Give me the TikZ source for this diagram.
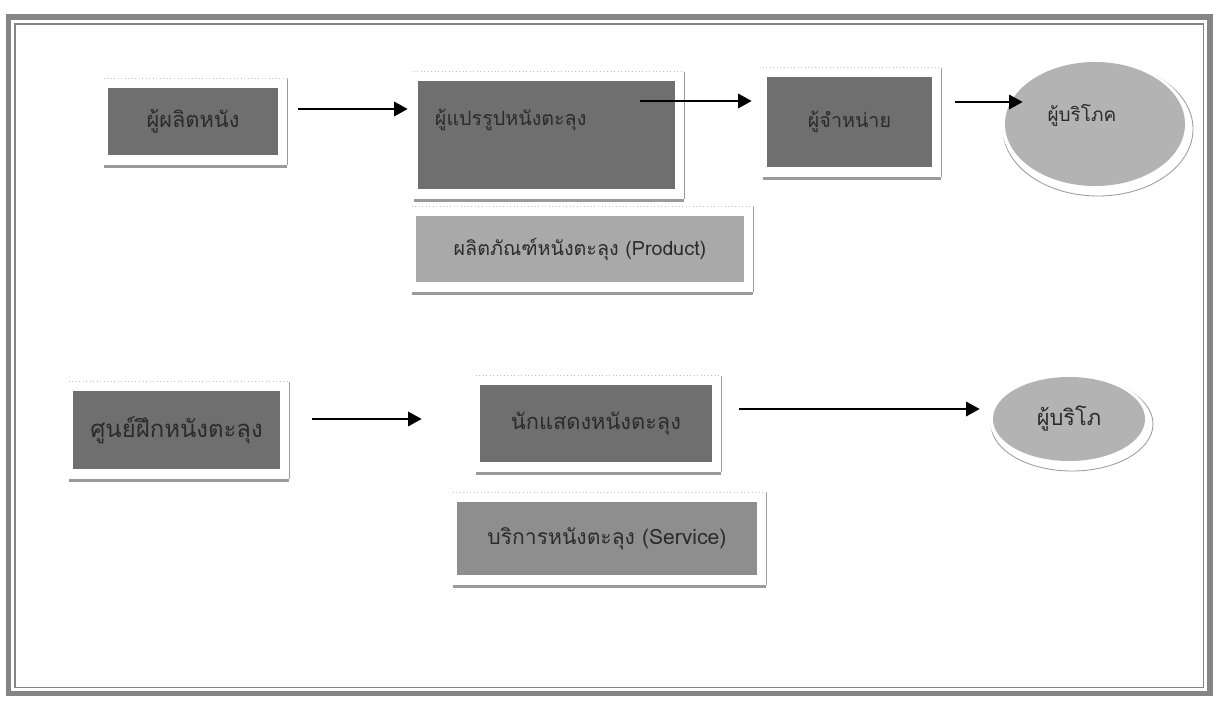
\documentclass[tikz,border=0pt]{standalone}
\usepackage{fontspec}
\newfontfamily\thaifont[Script=Thai]{Loma}
\usetikzlibrary{arrows.meta,calc,shapes.geometric,backgrounds}
\definecolor{SHInk}{HTML}{2B2B2B}
\definecolor{SHTile}{HTML}{6F6F6F}
\definecolor{SHTileLight}{HTML}{A9A9A9}
\definecolor{SHTileMid}{HTML}{8E8E8E}
\definecolor{SHOval}{HTML}{B3B3B3}
\definecolor{SHRim}{HTML}{9A9A9A}
\definecolor{SHFrame}{HTML}{858585}
\tikzset{
  flow/.style={-{Triangle[length=3.4mm,width=3.6mm]},black,line width=1.4pt},
  tile/.style={fill=SHTile,text=SHInk,inner sep=0pt,align=center,
               font=\thaifont\fontsize{14}{17}\selectfont},
  tilelight/.style={tile,fill=SHTileLight},
  tilemid/.style={tile,fill=SHTileMid},
  oval/.style={ellipse,fill=SHOval,text=SHInk,inner sep=0pt,
               font=\thaifont\fontsize{14}{17}\selectfont},
  big/.style={font=\thaifont\fontsize{17}{20}\selectfont},
  mid/.style={font=\thaifont\fontsize{15.5}{18}\selectfont},
  rimline/.style={draw=SHRim,line width=0.6pt},
  rimbar/.style={draw=SHRim,line width=2pt},
  rimdots/.style={draw=SHRim!60,line width=0.5pt,dotted},
  frameouter/.style={draw=SHFrame,line width=3.6pt},
  frameinner/.style={draw=SHFrame,line width=1pt},
}
\begin{document}
\begin{tikzpicture}[x=0.025cm,y=-0.025cm]
    \useasboundingbox (0,0) rectangle (1216,703);
    \draw[frameouter] (8.5,17) rectangle (1210,693.5);
    \draw[frameinner] (15,24) rectangle (1203.5,687.5);

    \node[tile,mid,minimum width=42.5mm,minimum height=16.75mm] (maker) at (193,121.5) {ผู้ผลิตหนัง};
    \node[tile,text width=55.75mm,inner xsep=4.25mm,align=left,text height=11.1mm,text depth=15.9mm] (proc) at (546.5,135)
      {ผู้แปรรูปหนังตะลุง};
    \node[tile,minimum width=41.25mm,minimum height=22.5mm] (dist) at (849.5,122) {ผู้จำหน่าย};
    \node[oval,font=\thaifont\fontsize{13.5}{16}\selectfont,minimum width=45mm,minimum height=31mm,
      text width=23.75mm,align=left,text height=4.5mm,text depth=6mm] (cons1) at (1095,124) {ผู้บริโภค};
    \node[tilelight,minimum width=82mm,minimum height=16.5mm] (product) at (580,249)
      {ผลิตภัณฑ์หนังตะลุง (Product)};

    \node[tile,big,minimum width=51.75mm,minimum height=19.5mm] (school) at (176.5,430) {ศูนย์ฝึกหนังตะลุง};
    \node[tile,mid,minimum width=58mm,minimum height=19.25mm] (actor) at (596,423.5) {นักแสดงหนังตะลุง};
    \node[oval,mid,minimum width=38mm,minimum height=21mm] (cons2) at (1069,419) {ผู้บริโภ};
    \node[tilemid,font=\thaifont\fontsize{15}{18}\selectfont,minimum width=75mm,minimum height=18.25mm] (service) at (607,538.5)
      {บริการหนังตะลุง (Service)};

    \foreach \n in {maker,proc,dist,product,school,actor,service}{
      \draw[rimdots] ($(\n.north west)+(-4,-9)$) -- ($(\n.north east)+(9,-9)$);
      \draw[rimline] ($(\n.north east)+(9,-9)$) -- ($(\n.south east)+(9,10)$);
      \draw[rimbar] ($(\n.south west)+(-4,11)$) -- ($(\n.south east)+(9,11)$);
    }
    \begin{scope}[on background layer]
      \draw[rimline,fill=white] ($(cons1.center)+(3,5)$) ellipse [x radius=95,y radius=67];
      \fill[white] ($(cons1.center)+(1,2)$) ellipse [x radius=94,y radius=66];
      \draw[rimline,fill=white] ($(cons2.center)+(3,5)$) ellipse [x radius=81,y radius=47];
      \fill[white] ($(cons2.center)+(1,2)$) ellipse [x radius=80,y radius=46];
    \end{scope}

    \draw[flow] ($(maker.east)+(20,-12.5)$) -- ($(proc.west)+(-10,-26)$);
    \draw[flow] ($(proc.east)+(-35,-34)$) -- ($(dist.west)+(-15,-21)$);
    \draw[flow] ($(dist.east)+(23,-20)$) -- ($(cons1.west)+(18,-22)$);
    \draw[flow] ($(school.east)+(32,-11)$) -- ($(actor.west)+(-58,-4.5)$);
    \draw[flow] ($(actor.east)+(27,-14.5)$) -- ($(cons2.west)+(-13,-10)$);
  \end{tikzpicture}
\end{document}
